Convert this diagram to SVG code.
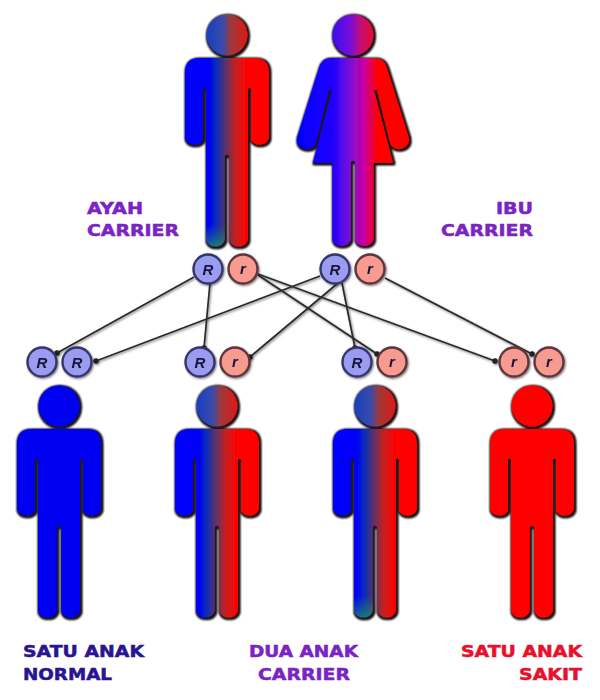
<svg xmlns="http://www.w3.org/2000/svg" width="600" height="700" viewBox="0 0 600 700">
<style>
.lbl{font-family:"DejaVu Sans","Liberation Sans",sans-serif;font-weight:bold;font-size:15.5px;stroke-width:.5px}
.pur{fill:#7a24c4;stroke:#7a24c4}
.nav{fill:#2a1590;stroke:#2a1590}
.red{fill:#e8102c;stroke:#e8102c}
.gene{font-family:"Liberation Sans",sans-serif;font-weight:bold;font-style:italic;font-size:15px;fill:#14143c;text-anchor:middle}
.R{fill:#9a9cf0;stroke:#34346e;stroke-width:2.4}
.r{fill:#f79a90;stroke:#5e343c;stroke-width:2.4}
.conn{stroke:#2a2a2a;stroke-width:1.7;fill:none;marker-end:url(#dot)}
</style>
<defs>
<marker id="dot" viewBox="-3 -3 6 6" markerWidth="5.5" markerHeight="5.5" markerUnits="userSpaceOnUse"><circle r="3" fill="#202020"/></marker>
<filter id="sh" x="-15%" y="-10%" width="130%" height="120%">
<feMorphology in="SourceAlpha" operator="dilate" radius="0.9" result="d"/>
<feOffset in="d" dx="1.2" dy="1.2" result="o"/>
<feGaussianBlur in="o" stdDeviation="0.9" result="b"/>
<feFlood flood-color="#1c1414"/>
<feComposite in2="b" operator="in" result="shadow"/>
<feGaussianBlur in="SourceGraphic" stdDeviation="0.6" result="s"/>
<feMerge><feMergeNode in="shadow"/><feMergeNode in="shadow"/><feMergeNode in="s"/></feMerge>
</filter>
<filter id="shl" x="-20%" y="-20%" width="140%" height="140%"><feDropShadow dx="1" dy="1.2" stdDeviation="1" flood-color="#000" flood-opacity=".55"/></filter>
<linearGradient id="mb"><stop offset="0" stop-color="#0000ff"/><stop offset=".28" stop-color="#0000f8"/><stop offset=".38" stop-color="#0b2fb4"/><stop offset=".5" stop-color="#6a3060"/><stop offset=".6" stop-color="#c42020"/><stop offset=".74" stop-color="#ff0000"/><stop offset="1" stop-color="#ff0000"/></linearGradient>
<linearGradient id="mh"><stop offset="0" stop-color="#1a3fc0"/><stop offset=".4" stop-color="#3a4aa8"/><stop offset=".6" stop-color="#a03838"/><stop offset="1" stop-color="#e01818"/></linearGradient>
<linearGradient id="fb"><stop offset="0" stop-color="#0000ff"/><stop offset=".32" stop-color="#2000ff"/><stop offset=".47" stop-color="#7a10d8"/><stop offset=".6" stop-color="#c800a0"/><stop offset=".72" stop-color="#ff0000"/><stop offset="1" stop-color="#ff0000"/></linearGradient>
<linearGradient id="fh"><stop offset="0" stop-color="#3a10f0"/><stop offset=".45" stop-color="#7a10d8"/><stop offset=".7" stop-color="#c81070"/><stop offset="1" stop-color="#e01030"/></linearGradient>
<linearGradient id="tip" x1="0" y1="0" x2="0" y2="1"><stop offset="0" stop-color="#1f8a6a" stop-opacity="0"/><stop offset="1" stop-color="#1f8a6a" stop-opacity=".8"/></linearGradient>
<path id="male" d="M-27 23H27Q42 23 42 38V103A10 10 0 0 1 24 105V54A1.5 1.5 0 0 0 21 54V205A10 10 0 0 1 2.200 205V122A2.200 2.200 0 0 0 -2.200 122V205A10 10 0 0 1 -21 205V54A1.5 1.5 0 0 0 -24 54V105A10 10 0 0 1 -42 103V38Q-42 23 -27 23Z"/>
<path id="female" d="M-22 23H22Q31 23 34 33L56 103C58 114 41 119 37 108L24 55L21 55L40 128H20.5V205A10 10 0 0 1 2.200 205V128A2.200 2.200 0 0 0 -2.200 128V205A10 10 0 0 1 -20.5 205V128H-40L-21 55L-24 55L-37 108C-41 119 -58 114 -56 103L-34 33Q-31 23 -22 23Z"/>
</defs>
<rect width="600" height="700" fill="#fff"/>
<g id="ayah" filter="url(#sh)" transform="translate(227 35)"><circle r="20.5" fill="url(#mh)"/><use href="#male" fill="url(#mb)"/><path d="M-21 190V205A10 10 0 0 0 -2.200 205V190Z" fill="url(#tip)"/></g>
<g id="ibu" filter="url(#sh)" transform="translate(353 35)"><circle r="20.5" fill="url(#fh)"/><use href="#female" fill="url(#fb)"/></g>
<g id="anak-normal" filter="url(#sh)" transform="translate(59 406)"><circle r="20.5" fill="#0000f0"/><use href="#male" fill="#0000f0"/></g>
<g id="anak-carrier-1" filter="url(#sh)" transform="translate(217 406)"><circle r="20.5" fill="url(#mh)"/><use href="#male" fill="url(#mb)"/></g>
<g id="anak-carrier-2" filter="url(#sh)" transform="translate(375 406)"><circle r="20.5" fill="url(#mh)"/><use href="#male" fill="url(#mb)"/><path d="M-21 190V205A10 10 0 0 0 -2.200 205V190Z" fill="url(#tip)"/></g>
<g id="anak-sakit" filter="url(#sh)" transform="translate(532 406)"><circle r="20.5" fill="#ff0000"/><use href="#male" fill="#ff0000"/></g>
<g id="connectors" filter="url(#shl)">
<line class="conn" x1="194" y1="277" x2="57" y2="353"/>
<line class="conn" x1="210" y1="283" x2="204" y2="348"/>
<line class="conn" x1="258" y1="275" x2="377" y2="354"/>
<line class="conn" x1="258" y1="274" x2="495" y2="361"/>
<line class="conn" x1="320" y1="276" x2="96" y2="361"/>
<line class="conn" x1="338" y1="283" x2="250" y2="357"/>
<line class="conn" x1="342" y1="283" x2="355" y2="348"/>
<line class="conn" x1="385" y1="278" x2="532" y2="354"/>
</g>
<g id="alel-ayah" filter="url(#shl)"><circle class="R" cx="208" cy="269" r="14.5"/><text class="gene" x="208" y="274.500">R</text><circle class="r" cx="243" cy="269" r="14.5"/><text class="gene" x="243" y="273.500">r</text></g>
<g id="alel-ibu" filter="url(#shl)"><circle class="R" cx="335" cy="269" r="14.5"/><text class="gene" x="335" y="274.500">R</text><circle class="r" cx="370" cy="269" r="14.5"/><text class="gene" x="370" y="273.500">r</text></g>
<g id="alel-1" filter="url(#shl)"><circle class="R" cx="42" cy="362" r="14.5"/><text class="gene" x="42" y="367.500">R</text><circle class="R" cx="77" cy="362" r="14.5"/><text class="gene" x="77" y="367.500">R</text></g>
<g id="alel-2" filter="url(#shl)"><circle class="R" cx="200" cy="362" r="14.5"/><text class="gene" x="200" y="367.500">R</text><circle class="r" cx="235" cy="362" r="14.5"/><text class="gene" x="235" y="366.500">r</text></g>
<g id="alel-3" filter="url(#shl)"><circle class="R" cx="357" cy="362" r="14.5"/><text class="gene" x="357" y="367.500">R</text><circle class="r" cx="392" cy="362" r="14.5"/><text class="gene" x="392" y="366.500">r</text></g>
<g id="alel-4" filter="url(#shl)"><circle class="r" cx="514" cy="362" r="14.5"/><text class="gene" x="514" y="366.500">r</text><circle class="r" cx="549" cy="362" r="14.5"/><text class="gene" x="549" y="366.500">r</text></g>
<g id="labels">
<text class="lbl pur" x="87" y="214" textLength="56" lengthAdjust="spacingAndGlyphs">AYAH</text>
<text class="lbl pur" x="87" y="236" textLength="92" lengthAdjust="spacingAndGlyphs">CARRIER</text>
<text class="lbl pur" x="496" y="214" textLength="37" lengthAdjust="spacingAndGlyphs">IBU</text>
<text class="lbl pur" x="441" y="236" textLength="92" lengthAdjust="spacingAndGlyphs">CARRIER</text>
<text class="lbl nav" x="23" y="657" textLength="121" lengthAdjust="spacingAndGlyphs">SATU ANAK</text>
<text class="lbl nav" x="23" y="680" textLength="89" lengthAdjust="spacingAndGlyphs">NORMAL</text>
<text class="lbl pur" x="249" y="657" textLength="109" lengthAdjust="spacingAndGlyphs">DUA ANAK</text>
<text class="lbl pur" x="258" y="680" textLength="92" lengthAdjust="spacingAndGlyphs">CARRIER</text>
<text class="lbl red" x="461" y="657" textLength="121" lengthAdjust="spacingAndGlyphs">SATU ANAK</text>
<text class="lbl red" x="519" y="680" textLength="63" lengthAdjust="spacingAndGlyphs">SAKIT</text>
</g>
</svg>
